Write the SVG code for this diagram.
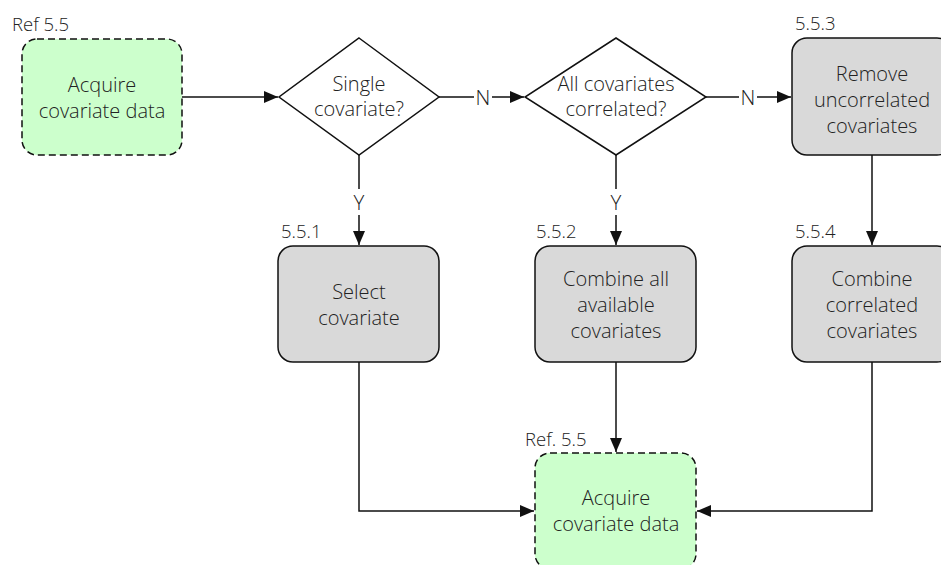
<svg xmlns="http://www.w3.org/2000/svg" width="941" height="565" viewBox="0 0 941 565">
  <style>
    text { font-family: "Open Sans", "Noto Sans", "DejaVu Sans", sans-serif; font-weight: 300; fill: #222; }
    .lbl { font-size: 20px; text-anchor: middle; }
    .tag { font-size: 18.5px; }
    .yn { font-size: 20.5px; text-anchor: middle; }
    .ext { fill: #ccffcc; stroke: #111; stroke-width: 1.5; stroke-dasharray: 7 4; }
    .proc { fill: #d9d9d9; stroke: #111; stroke-width: 1.5; }
    .dec { fill: #fff; stroke: #111; stroke-width: 1.5; }
    .edge { fill: none; stroke: #111; stroke-width: 1.5; }
  </style>
  <defs>
    <marker id="arrow" viewBox="0 0 14 12" refX="14" refY="6" markerWidth="14" markerHeight="12" markerUnits="userSpaceOnUse" orient="auto">
      <path d="M0,0 L14,6 L0,12 Z" fill="#111"/>
    </marker>
  </defs>
  <rect width="941" height="565" fill="#fff"/>

  <g id="connectors">
    <path class="edge" d="M182,97 H278" marker-end="url(#arrow)"/>
    <path class="edge" d="M439,97 H474 M492,97 H524" marker-end="url(#arrow)"/>
    <path class="edge" d="M706,97 H739 M757,97 H791" marker-end="url(#arrow)"/>
    <path class="edge" d="M359,155 V189 M359,215 V245" marker-end="url(#arrow)"/>
    <path class="edge" d="M616,155 V189 M616,215 V245" marker-end="url(#arrow)"/>
    <path class="edge" d="M872,155 V245" marker-end="url(#arrow)"/>
    <path class="edge" d="M616,362 V452" marker-end="url(#arrow)"/>
    <path class="edge" d="M359,362 V511 H534" marker-end="url(#arrow)"/>
    <path class="edge" d="M872,362 V511 H697" marker-end="url(#arrow)"/>
    <text class="yn" x="483" y="105">N</text>
    <text class="yn" x="748" y="105">N</text>
    <text class="yn" x="359" y="210">Y</text>
    <text class="yn" x="616" y="210">Y</text>
  </g>

  <g id="acquire-start">
    <rect class="ext" x="22" y="39" width="160" height="116" rx="15"/>
    <text class="tag" x="12" y="31">Ref 5.5</text>
    <text class="lbl" x="102" y="92">Acquire</text>
    <text class="lbl" x="102" y="118">covariate data</text>
  </g>

  <g id="single-covariate">
    <polygon class="dec" points="359,38 439,97 359,155 279,97"/>
    <text class="lbl" x="359" y="91">Single</text>
    <text class="lbl" x="359" y="116">covariate?</text>
  </g>

  <g id="all-correlated">
    <polygon class="dec" points="616,38 706,97 616,155 525,97"/>
    <text class="lbl" x="616" y="91">All covariates</text>
    <text class="lbl" x="616" y="116">correlated?</text>
  </g>

  <g id="remove-uncorrelated">
    <rect class="proc" x="792" y="38" width="160" height="117" rx="15"/>
    <text class="tag" x="795" y="30">5.5.3</text>
    <text class="lbl" x="872" y="81">Remove</text>
    <text class="lbl" x="872" y="107">uncorrelated</text>
    <text class="lbl" x="872" y="133">covariates</text>
  </g>

  <g id="select-covariate">
    <rect class="proc" x="278" y="246" width="161" height="116" rx="15"/>
    <text class="tag" x="281" y="238">5.5.1</text>
    <text class="lbl" x="359" y="299">Select</text>
    <text class="lbl" x="359" y="325">covariate</text>
  </g>

  <g id="combine-all">
    <rect class="proc" x="535" y="246" width="161" height="116" rx="15"/>
    <text class="tag" x="536" y="238">5.5.2</text>
    <text class="lbl" x="616" y="286">Combine all</text>
    <text class="lbl" x="616" y="312">available</text>
    <text class="lbl" x="616" y="338">covariates</text>
  </g>

  <g id="combine-correlated">
    <rect class="proc" x="792" y="246" width="160" height="116" rx="15"/>
    <text class="tag" x="795" y="238">5.5.4</text>
    <text class="lbl" x="872" y="286">Combine</text>
    <text class="lbl" x="872" y="312">correlated</text>
    <text class="lbl" x="872" y="338">covariates</text>
  </g>

  <g id="acquire-end">
    <rect class="ext" x="535" y="453" width="161" height="116" rx="15"/>
    <text class="tag" x="525" y="446">Ref. 5.5</text>
    <text class="lbl" x="616" y="505">Acquire</text>
    <text class="lbl" x="616" y="531">covariate data</text>
  </g>
</svg>
